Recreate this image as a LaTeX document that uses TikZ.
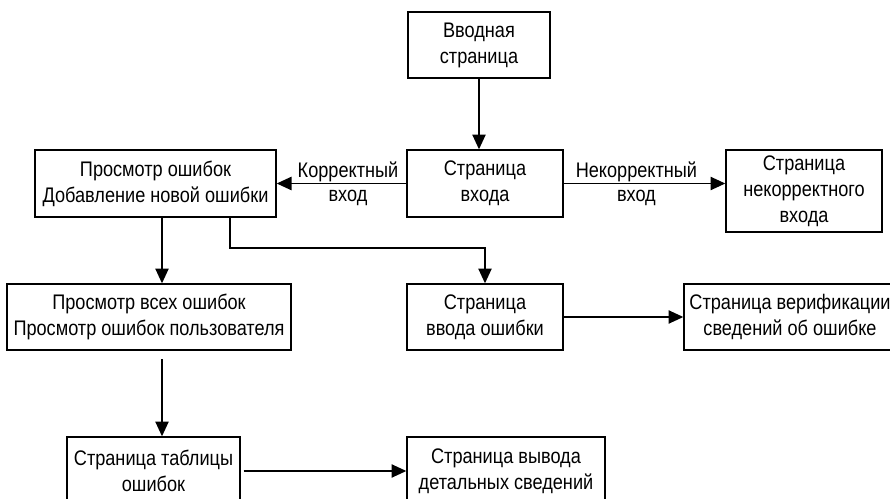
\documentclass[tikz,border=0pt]{standalone}
\usepackage{fontspec}
\setmainfont{Liberation Sans}[FakeStretch=0.86]
\usepackage{tikz}
\usetikzlibrary{arrows.meta,calc}

\begin{document}
\begin{tikzpicture}[x=0.025cm,y=-0.025cm,
  box/.style={rectangle,draw,line width=1pt,align=center,inner sep=2pt,
              font=\fontsize{15}{18.5}\selectfont},
  arr/.style={line width=0.9pt,-{Triangle[length=10.5pt,width=9.5pt]}},
  lbl/.style={font=\fontsize{15}{18.5}\selectfont,inner sep=1pt}
]
\clip (0,0) rectangle (890,499);

\node[box,minimum width=3.55cm,minimum height=1.65cm]  (intro)    at (479,45)      {Вводная\\страница};
\node[box,minimum width=3.9cm,minimum height=1.675cm]  (login)    at (485,183.5)   {Страница\\входа};
\node[box,minimum width=6.025cm,minimum height=1.675cm](view)     at (155.5,183.5) {Просмотр ошибок\\Добавление новой ошибки};
\node[box,minimum width=3.9cm,minimum height=2.05cm]   (badlogin) at (804,191)     {Страница\\некорректного\\входа};
\node[box,minimum width=7.1cm,minimum height=1.65cm]   (viewall)  at (149,317)     {Просмотр всех ошибок\\Просмотр ошибок пользователя};
\node[box,minimum width=3.9cm,minimum height=1.65cm]   (input)    at (485,317)     {Страница\\ввода ошибки};
\node[box,minimum width=5.3cm,minimum height=1.65cm]   (verify)   at (790,317)     {Страница верификации\\сведений об ошибке};
\node[box,minimum width=4.325cm,minimum height=1.7cm]  (table)    at (153.5,471)   {Страница таблицы\\ошибок};
\node[box,minimum width=4.95cm,minimum height=1.7cm]   (detail)   at (506,471)     {Страница вывода\\детальных сведений};

\coordinate (col)  at (162,0);
\coordinate (bend) at (230,248);

\draw[arr] (intro) -- (intro |- login.north);
\draw[arr] (login) -- node[lbl,above,pos=0.45]{Корректный} node[lbl,below=3pt,pos=0.45]{вход} (view);
\draw[arr] (login) -- node[lbl,above,pos=0.45]{Некорректный} node[lbl,below=3pt,pos=0.45]{вход} (login.east -| badlogin.west);
\draw[arr] (view.south -| col) -- (viewall.north -| col);
\draw[arr] (view.south -| bend) -- (bend) -| (input.north);
\draw[arr] (input) -- (input -| verify.west);
\draw[arr,shorten <=6pt] (viewall.south -| col) -- (table.north -| col);
\draw[arr,shorten <=2pt] (table) -- (detail);
\end{tikzpicture}
\end{document}
